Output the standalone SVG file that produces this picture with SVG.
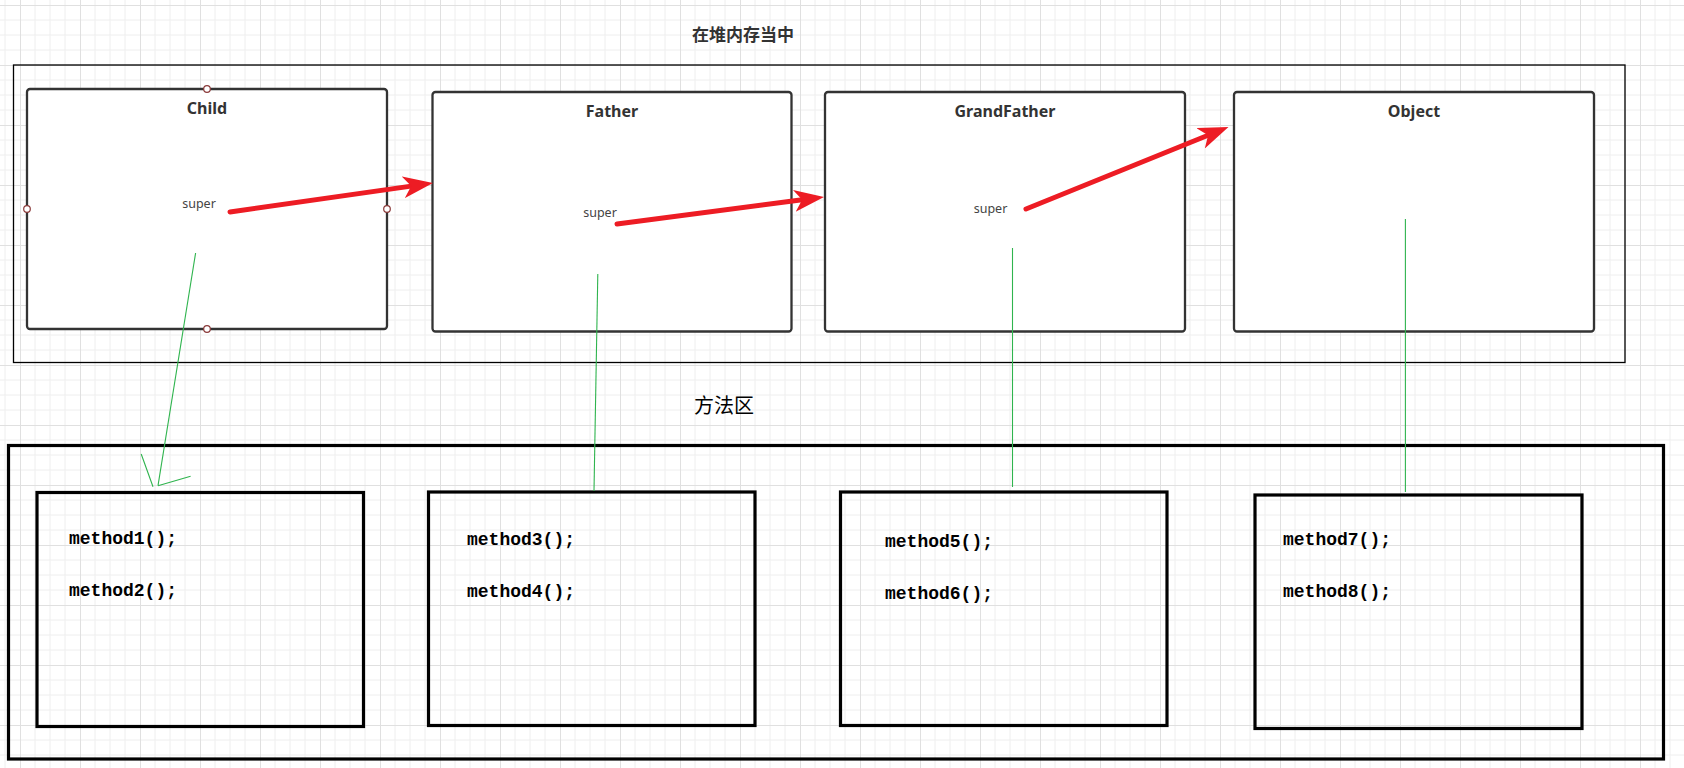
<svg xmlns="http://www.w3.org/2000/svg" width="1684" height="768" viewBox="0 0 1684 768">
<style>
.node{fill:#fff;stroke:#333;stroke-width:2.3}
.title{font-family:"Noto Sans","Liberation Sans",sans-serif;font-weight:bold;font-size:16px;fill:#333;text-anchor:middle}
.sup{font-family:"Noto Sans","Liberation Sans",sans-serif;font-size:12.5px;fill:#444;text-anchor:middle}
.mbox{fill:none;stroke:#000;stroke-width:3.2}
.mtxt{font-family:"Liberation Mono",monospace;font-weight:bold;font-size:18px;fill:#000}
.red{fill:none;stroke:#ed1c24;stroke-width:5;stroke-linecap:round}
.green{fill:none;stroke:#2fb44e;stroke-width:1.1}
.pt{fill:#fff;stroke:#8b3a3a;stroke-width:1.2}
</style>
<defs>
<pattern id="grid" width="60" height="60" patternUnits="userSpaceOnUse" x="20" y="5">
<path d="M15,0V60M30,0V60M45,0V60M0,15H60M0,30H60M0,45H60" stroke="#eeeeee" stroke-width="1" fill="none"/>
<path d="M0.5,0V60M0,0.5H60" stroke="#e0e0e0" stroke-width="1" fill="none"/>
</pattern>
<marker id="redhead" markerUnits="userSpaceOnUse" viewBox="0 0 30 22" markerWidth="30" markerHeight="22" refX="8" refY="11" orient="auto">
<path d="M0,0 L30,11 L0,22 L8,11 Z" fill="#ed1c24"/>
</marker>
</defs>
<rect width="1684" height="768" fill="#fff"/>
<rect width="1684" height="768" fill="url(#grid)"/>

<text x="743" y="41" font-family="'Noto Sans CJK SC',sans-serif" font-weight="bold" font-size="17" fill="#333" text-anchor="middle">在堆内存当中</text>
<rect id="heap" x="13.5" y="65" width="1611.5" height="297.5" fill="none" stroke="#000" stroke-width="1.3"/>

<g id="child">
<rect class="node" x="27" y="89" width="360" height="240" rx="3"/>
<text class="title" x="207" y="114">Child</text>
<text class="sup" x="199" y="208">super</text>
<circle class="pt" cx="207" cy="89" r="3.3"/>
<circle class="pt" cx="27" cy="209" r="3.3"/>
<circle class="pt" cx="387" cy="209" r="3.3"/>
<circle class="pt" cx="207" cy="329" r="3.3"/>
</g>
<g id="father">
<rect class="node" x="432.5" y="92" width="359" height="239.5" rx="3"/>
<text class="title" x="612" y="117">Father</text>
<text class="sup" x="600" y="217">super</text>
</g>
<g id="grandfather">
<rect class="node" x="825" y="92" width="360" height="239.5" rx="3"/>
<text class="title" x="1005" y="117">GrandFather</text>
<text class="sup" x="990.5" y="213">super</text>
</g>
<g id="object">
<rect class="node" x="1234" y="92" width="360" height="239.5" rx="3"/>
<text class="title" x="1414" y="117">Object</text>
</g>

<text x="724" y="413" font-family="'Noto Sans CJK SC',serif" font-size="20" fill="#000" text-anchor="middle">方法区</text>
<rect id="methodArea" x="8.5" y="445.5" width="1655" height="313.5" class="mbox"/>

<g id="m1">
<rect class="mbox" x="37" y="492.5" width="326.5" height="234"/>
<text class="mtxt" x="69" y="544">method1();</text>
<text class="mtxt" x="69" y="596">method2();</text>
</g>
<g id="m2">
<rect class="mbox" x="428.5" y="492" width="326.5" height="233.5"/>
<text class="mtxt" x="467" y="545">method3();</text>
<text class="mtxt" x="467" y="597">method4();</text>
</g>
<g id="m3">
<rect class="mbox" x="840.5" y="492" width="326.5" height="233.5"/>
<text class="mtxt" x="885" y="547">method5();</text>
<text class="mtxt" x="885" y="599">method6();</text>
</g>
<g id="m4">
<rect class="mbox" x="1255" y="495" width="327" height="233.5"/>
<text class="mtxt" x="1283" y="545">method7();</text>
<text class="mtxt" x="1283" y="597">method8();</text>
</g>

<g id="connectors">
<line class="red" x1="230" y1="212" x2="411.2" y2="186.1" marker-end="url(#redhead)"/>
<line class="red" x1="617" y1="224" x2="802.2" y2="199.8" marker-end="url(#redhead)"/>
<line class="red" x1="1026" y1="209" x2="1208.1" y2="135.3" marker-end="url(#redhead)"/>
<line class="green" x1="195.6" y1="253" x2="158" y2="485.7"/>
<path class="green" d="M141.2,454 L153,486.7 M158,485.7 L190.6,476.3"/>
<line class="green" x1="597.8" y1="274" x2="594" y2="491"/>
<line class="green" x1="1012.5" y1="248" x2="1012.5" y2="487"/>
<line class="green" x1="1405.4" y1="219" x2="1405.4" y2="492"/>
</g>
</svg>
